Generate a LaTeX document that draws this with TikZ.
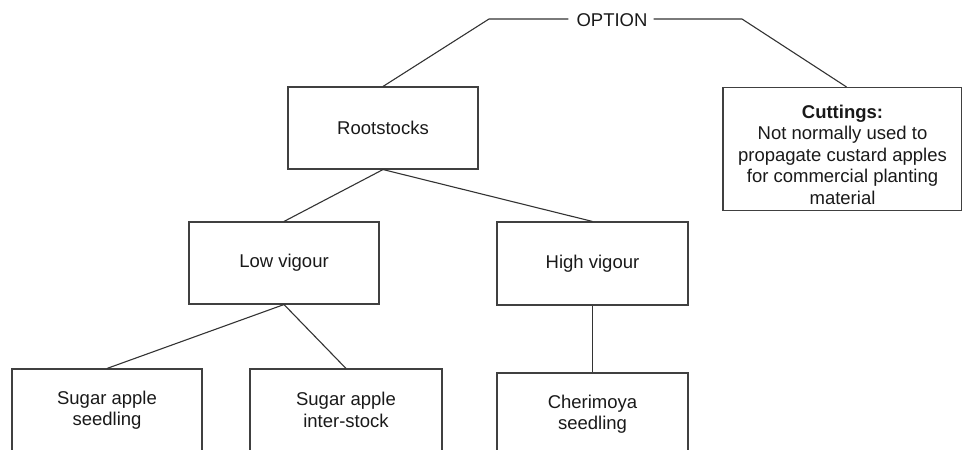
\documentclass[tikz,border=0pt]{standalone}
\usepackage{fontspec}
\setmainfont{Liberation Sans}
\begin{document}
\begin{tikzpicture}[x=1pt,y=-1pt,
  box/.style={draw=black!75, line width=1.1pt, rectangle, inner sep=0pt,
    minimum width=190pt, minimum height=82pt, align=center,
    font=\fontsize{18.5}{21.5}\selectfont, text=black!90},
  link/.style={draw=black!80, line width=1.1pt}]
\clip (0,0) rectangle (962,450);
\node[font=\fontsize{18.5}{21.5}\selectfont, text=black!90, inner sep=0pt] (opt) at (612,20) {OPTION};
\node[box] (root) at (383,128) {Rootstocks};
\node[box, minimum width=239pt, minimum height=123pt] (cut) at (842.5,149)
  {\rule{0pt}{25pt}\textbf{Cuttings:}\\Not normally used to\\propagate custard apples\\for commercial planting\\material};
\node[box] (low) at (284,263) {Low vigour};
\node[box, minimum width=191pt, minimum height=83pt] (high) at (592.5,263.5) {High vigour};
\node[box] (sas) at (107,410) {Sugar apple\\seedling};
\node[box, minimum width=192pt] (sis) at (346,410) {Sugar apple\\inter-stock};
\node[box, minimum width=191pt] (cher) at (592.5,414) {Cherimoya\\seedling};
\coordinate (ol) at (489,19);
\coordinate (orr) at (742,19);
\draw[link] (root.north) -- (ol) -- ([xshift=-8pt]opt.west |- ol);
\draw[link] ([xshift=6pt]opt.east |- orr) -- (orr) -- ([xshift=4pt]cut.north);
\draw[link] (root.south) -- (low.north);
\draw[link] (root.south) -- (high.north);
\draw[link] (low.south) -- (sas.north);
\draw[link] (low.south) -- (sis.north);
\draw[link] (high.south) -- (cher.north);
\end{tikzpicture}
\end{document}
